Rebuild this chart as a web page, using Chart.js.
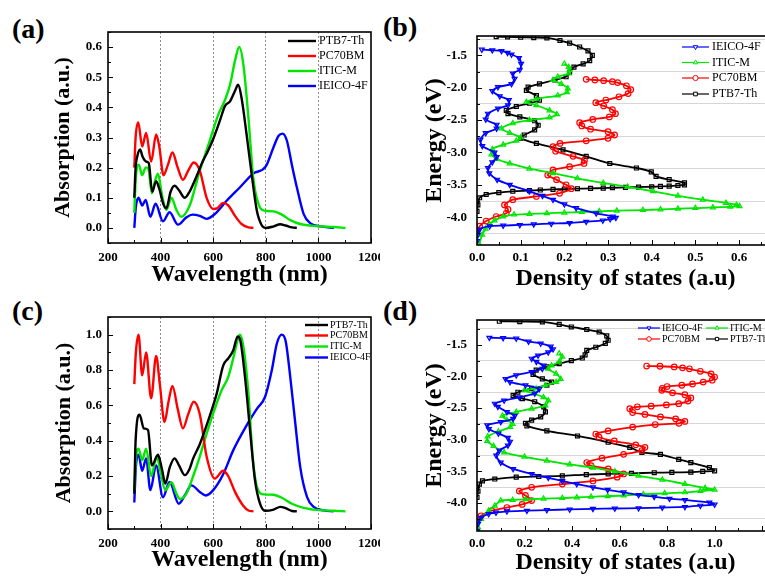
<!DOCTYPE html>
<html>
<head>
<meta charset="utf-8">
<script src="https://cdn.jsdelivr.net/npm/chart.js@4.4.0/dist/chart.umd.min.js"></script>
<style>
html, body { margin: 0; padding: 0; background: #fff; overflow: hidden; width: 765px; height: 578px; position: relative; }
canvas { position: absolute; }
.lbl { position: absolute; font: bold 28px "Liberation Serif", "Times New Roman", serif; line-height: 1; color: #000; }
</style>
</head>
<body>
<div class="lbl" style="left:12px;top:15px">(a)</div>
<div class="lbl" style="left:383px;top:13px">(b)</div>
<div class="lbl" style="left:12px;top:297px">(c)</div>
<div class="lbl" style="left:383px;top:297px">(d)</div>
<canvas id="ca" width="380" height="290" style="left:0;top:0"></canvas>
<canvas id="cb" width="400" height="293" style="left:380px;top:0"></canvas>
<canvas id="cc" width="380" height="288" style="left:0;top:290px"></canvas>
<canvas id="cd" width="400" height="288" style="left:380px;top:290px"></canvas>
<script>
const SERIF = '"Liberation Serif", "Times New Roman", serif';

// --- (a) absorption, [wavelength nm, absorbance] ---
const ptb7A = [[300,0.10],[305,0.20],[312,0.24],[322,0.26],[332,0.235],[345,0.22],[355,0.215],[368,0.12],[383,0.155],[395,0.13],[410,0.08],[422,0.065],[438,0.12],[453,0.14],[470,0.125],[492,0.10],[510,0.12],[536,0.17],[560,0.22],[580,0.255],[600,0.295],[625,0.355],[645,0.405],[664,0.42],[683,0.455],[695,0.475],[708,0.43],[727,0.31],[746,0.18],[766,0.057],[785,0.008],[800,0.0],[830,0.005],[855,0.012],[875,0.008],[900,0.002],[918,0.0]];
const pc70A = [[300,0.2],[305,0.3],[315,0.35],[330,0.27],[345,0.315],[364,0.22],[383,0.31],[395,0.27],[411,0.175],[428,0.21],[445,0.25],[465,0.2],[485,0.16],[505,0.19],[526,0.217],[549,0.19],[575,0.10],[600,0.063],[615,0.065],[638,0.083],[657,0.075],[683,0.04],[708,0.013],[734,0.002],[753,0.0]];
const iticA = [[300,0.05],[306,0.17],[317,0.21],[330,0.175],[343,0.2],[352,0.2],[367,0.115],[380,0.16],[390,0.18],[405,0.11],[422,0.06],[441,0.10],[460,0.06],[479,0.037],[511,0.075],[530,0.13],[549,0.19],[570,0.245],[587,0.29],[619,0.375],[645,0.425],[664,0.475],[683,0.555],[699,0.6],[715,0.54],[734,0.365],[752,0.168],[772,0.08],[797,0.057],[829,0.055],[861,0.044],[893,0.026],[931,0.013],[995,0.006],[1058,0.003],[1103,0.0]];
const ieicoA = [[300,0.0],[306,0.07],[316,0.10],[330,0.074],[343,0.093],[361,0.037],[381,0.08],[409,0.022],[434,0.052],[466,0.011],[498,0.035],[521,0.044],[549,0.04],[575,0.03],[606,0.046],[651,0.09],[702,0.135],[752,0.18],[800,0.204],[829,0.267],[848,0.305],[864,0.313],[880,0.29],[899,0.21],[918,0.135],[944,0.046],[970,0.015],[1008,0.005],[1059,0.0]];

// --- (c) normalised absorption ---
const ptb7C = [[300,0.1],[305,0.4],[320,0.547],[336,0.47],[352,0.46],[367,0.26],[390,0.32],[405,0.24],[418,0.157],[435,0.25],[453,0.30],[470,0.26],[492,0.205],[510,0.24],[524,0.30],[549,0.38],[587,0.54],[613,0.665],[638,0.825],[657,0.865],[676,0.91],[693,0.99],[702,0.975],[721,0.76],[740,0.46],[759,0.175],[778,0.043],[797,0.003],[830,0.01],[855,0.025],[875,0.018],[900,0.002],[918,0.0]];
const pc70C = [[300,0.72],[306,0.9],[316,1.0],[330,0.77],[345,0.9],[364,0.64],[383,0.88],[397,0.72],[415,0.505],[430,0.62],[445,0.71],[465,0.58],[485,0.47],[505,0.55],[526,0.62],[549,0.55],[575,0.31],[606,0.185],[638,0.23],[657,0.2],[683,0.11],[715,0.03],[734,0.005],[753,0.0]];
const iticC = [[300,0.12],[306,0.3],[316,0.355],[330,0.29],[345,0.355],[364,0.2],[386,0.31],[400,0.22],[418,0.12],[441,0.165],[460,0.1],[473,0.07],[498,0.1],[524,0.2],[549,0.31],[575,0.44],[606,0.58],[632,0.685],[657,0.76],[676,0.865],[693,0.97],[702,1.0],[715,0.93],[734,0.665],[750,0.31],[766,0.14],[791,0.096],[829,0.094],[861,0.077],[899,0.043],[944,0.02],[995,0.008],[1058,0.003],[1103,0.0]];
const ieicoC = [[300,0.05],[306,0.25],[316,0.32],[330,0.23],[345,0.3],[361,0.12],[383,0.26],[409,0.08],[434,0.166],[469,0.043],[492,0.09],[517,0.147],[549,0.11],[572,0.09],[600,0.12],[638,0.21],[676,0.345],[727,0.487],[766,0.58],[797,0.647],[823,0.8],[842,0.95],[861,1.0],[876,0.96],[893,0.76],[912,0.5],[931,0.25],[957,0.08],[982,0.025],[1020,0.005],[1058,0.0]];

// --- (b) density of states, [energy eV, DOS] ---
const ieicoB = [[-1.41,0.011],[-1.42,0.035],[-1.43,0.056],[-1.46,0.07],[-1.485,0.079],[-1.54,0.096],[-1.63,0.101],[-1.72,0.098],[-1.78,0.082],[-1.86,0.086],[-1.94,0.079],[-1.99,0.048],[-2.05,0.035],[-2.13,0.052],[-2.19,0.073],[-2.27,0.071],[-2.32,0.048],[-2.40,0.025],[-2.49,0.02],[-2.57,0.045],[-2.63,0.045],[-2.70,0.02],[-2.80,0.008],[-2.90,0.012],[-3.00,0.04],[-3.07,0.045],[-3.15,0.035],[-3.24,0.025],[-3.32,0.028],[-3.42,0.046],[-3.50,0.075],[-3.60,0.12],[-3.67,0.15],[-3.73,0.174],[-3.80,0.20],[-3.86,0.227],[-3.94,0.273],[-3.99,0.311],[-4.01,0.318],[-4.03,0.305],[-4.05,0.288],[-4.07,0.25],[-4.09,0.212],[-4.10,0.17],[-4.11,0.13],[-4.12,0.098],[-4.13,0.06],[-4.14,0.029],[-4.19,0.006],[-4.27,0.002],[-4.37,0.0]];
const iticB = [[-1.63,0.20],[-1.68,0.21],[-1.73,0.212],[-1.78,0.21],[-1.83,0.185],[-1.88,0.174],[-1.94,0.193],[-2.01,0.208],[-2.07,0.206],[-2.12,0.185],[-2.17,0.136],[-2.22,0.113],[-2.27,0.136],[-2.35,0.166],[-2.41,0.183],[-2.46,0.166],[-2.50,0.12],[-2.55,0.082],[-2.63,0.056],[-2.70,0.075],[-2.77,0.10],[-2.82,0.09],[-2.88,0.06],[-2.95,0.035],[-3.03,0.033],[-3.10,0.045],[-3.17,0.075],[-3.25,0.12],[-3.32,0.174],[-3.40,0.23],[-3.47,0.289],[-3.53,0.345],[-3.60,0.403],[-3.67,0.46],[-3.73,0.517],[-3.78,0.57],[-3.81,0.594],[-3.83,0.601],[-3.84,0.58],[-3.85,0.54],[-3.86,0.50],[-3.87,0.46],[-3.88,0.42],[-3.89,0.38],[-3.90,0.32],[-3.91,0.28],[-3.92,0.24],[-3.93,0.20],[-3.94,0.16],[-3.95,0.12],[-3.96,0.085],[-3.99,0.06],[-4.05,0.04],[-4.11,0.029],[-4.18,0.02],[-4.27,0.012],[-4.42,0.005]];
const pc70B = [[-1.87,0.25],[-1.88,0.27],[-1.89,0.29],[-1.905,0.31],[-1.92,0.322],[-1.97,0.342],[-2.03,0.352],[-2.09,0.346],[-2.14,0.325],[-2.19,0.295],[-2.23,0.272],[-2.28,0.29],[-2.34,0.31],[-2.40,0.317],[-2.45,0.303],[-2.49,0.265],[-2.54,0.235],[-2.59,0.24],[-2.64,0.26],[-2.68,0.30],[-2.73,0.315],[-2.78,0.30],[-2.82,0.25],[-2.86,0.19],[-2.91,0.174],[-2.98,0.18],[-3.06,0.22],[-3.12,0.246],[-3.17,0.245],[-3.22,0.212],[-3.27,0.174],[-3.35,0.162],[-3.42,0.182],[-3.50,0.204],[-3.56,0.216],[-3.63,0.189],[-3.68,0.136],[-3.73,0.082],[-3.81,0.063],[-3.88,0.071],[-3.94,0.067],[-3.99,0.044],[-4.06,0.021],[-4.14,0.006],[-4.22,0.0]];
const ptb7B = [[-1.21,0.044],[-1.215,0.07],[-1.22,0.10],[-1.225,0.13],[-1.23,0.16],[-1.27,0.19],[-1.31,0.212],[-1.37,0.235],[-1.43,0.254],[-1.50,0.264],[-1.58,0.258],[-1.63,0.243],[-1.68,0.222],[-1.76,0.212],[-1.83,0.204],[-1.88,0.178],[-1.94,0.143],[-1.99,0.117],[-2.04,0.113],[-2.12,0.136],[-2.19,0.143],[-2.24,0.12],[-2.29,0.09],[-2.35,0.067],[-2.40,0.071],[-2.45,0.098],[-2.51,0.132],[-2.58,0.14],[-2.65,0.132],[-2.73,0.108],[-2.78,0.10],[-2.86,0.136],[-2.96,0.197],[-3.06,0.25],[-3.17,0.304],[-3.24,0.365],[-3.30,0.399],[-3.37,0.41],[-3.42,0.44],[-3.47,0.475],[-3.50,0.475],[-3.51,0.46],[-3.52,0.44],[-3.525,0.42],[-3.53,0.40],[-3.535,0.37],[-3.54,0.34],[-3.545,0.31],[-3.55,0.289],[-3.555,0.26],[-3.56,0.23],[-3.565,0.20],[-3.57,0.174],[-3.58,0.145],[-3.59,0.12],[-3.60,0.082],[-3.62,0.05],[-3.65,0.021],[-3.70,0.006],[-3.81,0.002],[-3.91,0.0]];

// --- (d) normalised density of states ---
const ieicoD = [[-1.39,0.052],[-1.395,0.11],[-1.40,0.165],[-1.45,0.217],[-1.48,0.268],[-1.53,0.31],[-1.57,0.32],[-1.62,0.30],[-1.67,0.257],[-1.72,0.23],[-1.77,0.25],[-1.83,0.28],[-1.88,0.275],[-1.93,0.23],[-1.98,0.165],[-2.04,0.12],[-2.09,0.139],[-2.14,0.204],[-2.20,0.262],[-2.27,0.243],[-2.33,0.178],[-2.38,0.114],[-2.43,0.075],[-2.48,0.088],[-2.56,0.126],[-2.62,0.159],[-2.67,0.152],[-2.72,0.10],[-2.77,0.043],[-2.83,0.05],[-2.90,0.09],[-2.97,0.13],[-3.03,0.139],[-3.09,0.13],[-3.17,0.094],[-3.25,0.081],[-3.36,0.10],[-3.46,0.152],[-3.54,0.23],[-3.60,0.30],[-3.65,0.359],[-3.70,0.42],[-3.75,0.488],[-3.79,0.55],[-3.83,0.617],[-3.87,0.68],[-3.90,0.746],[-3.93,0.81],[-3.95,0.875],[-3.99,0.978],[-4.02,1.0],[-4.04,0.94],[-4.06,0.875],[-4.07,0.78],[-4.08,0.68],[-4.085,0.58],[-4.09,0.488],[-4.10,0.39],[-4.11,0.294],[-4.12,0.21],[-4.13,0.126],[-4.15,0.08],[-4.17,0.049],[-4.23,0.017],[-4.33,0.004],[-4.44,0.0]];
const iticD = [[-1.64,0.346],[-1.69,0.359],[-1.77,0.346],[-1.83,0.314],[-1.88,0.30],[-1.96,0.333],[-2.04,0.352],[-2.09,0.333],[-2.14,0.288],[-2.19,0.249],[-2.22,0.20],[-2.27,0.24],[-2.33,0.28],[-2.38,0.30],[-2.46,0.288],[-2.51,0.23],[-2.56,0.165],[-2.62,0.107],[-2.69,0.126],[-2.75,0.15],[-2.80,0.14],[-2.87,0.09],[-2.95,0.045],[-3.02,0.043],[-3.10,0.07],[-3.20,0.114],[-3.27,0.20],[-3.33,0.294],[-3.39,0.39],[-3.44,0.488],[-3.50,0.58],[-3.57,0.68],[-3.63,0.78],[-3.70,0.875],[-3.76,0.96],[-3.79,1.0],[-3.81,0.94],[-3.83,0.875],[-3.845,0.79],[-3.86,0.70],[-3.88,0.617],[-3.89,0.55],[-3.90,0.48],[-3.91,0.42],[-3.92,0.359],[-3.93,0.28],[-3.94,0.204],[-3.95,0.15],[-3.96,0.10],[-4.04,0.075],[-4.12,0.049],[-4.25,0.017],[-4.38,0.004]];
const pc70D = [[-1.837,0.714],[-1.84,0.77],[-1.85,0.83],[-1.865,0.865],[-1.88,0.894],[-1.92,0.94],[-1.96,0.985],[-2.01,1.0],[-2.06,0.99],[-2.09,0.952],[-2.12,0.907],[-2.14,0.862],[-2.16,0.80],[-2.19,0.78],[-2.22,0.778],[-2.26,0.823],[-2.29,0.875],[-2.34,0.90],[-2.39,0.888],[-2.43,0.849],[-2.45,0.797],[-2.47,0.733],[-2.48,0.675],[-2.51,0.643],[-2.57,0.655],[-2.60,0.707],[-2.64,0.772],[-2.67,0.836],[-2.71,0.875],[-2.74,0.85],[-2.76,0.75],[-2.80,0.655],[-2.86,0.552],[-2.91,0.50],[-2.96,0.514],[-3.02,0.578],[-3.08,0.668],[-3.12,0.707],[-3.17,0.694],[-3.23,0.617],[-3.29,0.526],[-3.36,0.462],[-3.41,0.48],[-3.46,0.552],[-3.54,0.617],[-3.59,0.59],[-3.65,0.488],[-3.70,0.359],[-3.75,0.23],[-3.81,0.178],[-3.88,0.204],[-3.96,0.23],[-4.02,0.19],[-4.07,0.126],[-4.12,0.062],[-4.20,0.017],[-4.28,0.0]];
const ptb7D = [[-1.13,0.094],[-1.135,0.18],[-1.14,0.275],[-1.18,0.346],[-1.22,0.397],[-1.26,0.462],[-1.30,0.514],[-1.36,0.546],[-1.43,0.552],[-1.48,0.54],[-1.54,0.50],[-1.59,0.462],[-1.66,0.455],[-1.71,0.443],[-1.75,0.397],[-1.80,0.346],[-1.85,0.294],[-1.90,0.249],[-1.97,0.236],[-2.04,0.275],[-2.09,0.314],[-2.14,0.294],[-2.19,0.23],[-2.25,0.172],[-2.30,0.152],[-2.35,0.191],[-2.40,0.243],[-2.48,0.281],[-2.56,0.288],[-2.64,0.268],[-2.69,0.23],[-2.74,0.204],[-2.78,0.21],[-2.86,0.294],[-2.94,0.423],[-3.04,0.552],[-3.12,0.643],[-3.20,0.694],[-3.23,0.772],[-3.31,0.849],[-3.36,0.90],[-3.44,0.978],[-3.49,1.0],[-3.50,0.95],[-3.51,0.90],[-3.515,0.82],[-3.52,0.746],[-3.53,0.65],[-3.54,0.552],[-3.55,0.46],[-3.57,0.359],[-3.58,0.26],[-3.59,0.165],[-3.62,0.075],[-3.65,0.023],[-3.70,0.01],[-3.81,0.004],[-3.91,0.0]];

// --- plugins ---

// frame box + inward ticks (major/minor) on bottom and left edges
const frameTicks = {
    id: 'frameTicks',
    afterDatasetsDraw(chart, args, o) {
        const { ctx, chartArea: a, scales: { x, y } } = chart;
        const isMajor = (v, m) => Math.abs(v / m - Math.round(v / m)) < 1e-6;
        ctx.save();
        ctx.strokeStyle = '#000';
        ctx.lineWidth = 1;
        for (let k = Math.ceil(x.min / o.xMinor - 1e-9); k * o.xMinor <= x.max + 1e-9; k++) {
            const v = k * o.xMinor, px = Math.round(x.getPixelForValue(v)) + 0.5;
            ctx.beginPath();
            ctx.moveTo(px, a.bottom);
            ctx.lineTo(px, a.bottom - (isMajor(v, o.xMajor) ? 5 : 3));
            ctx.stroke();
        }
        for (let k = Math.ceil(y.min / o.yMinor - 1e-9); k * o.yMinor <= y.max + 1e-9; k++) {
            const v = k * o.yMinor, py = Math.round(y.getPixelForValue(v)) + 0.5;
            ctx.beginPath();
            ctx.moveTo(a.left, py);
            ctx.lineTo(a.left + (isMajor(v, o.yMajor) ? 5 : 3), py);
            ctx.stroke();
        }
        ctx.lineWidth = 1.6;
        ctx.strokeRect(a.left, a.top, a.right - a.left, a.bottom - a.top);
        ctx.restore();
    }
};

// legend drawn inside the plot, entries placed by the options
const boxLegend = {
    id: 'boxLegend',
    afterDraw(chart, args, o) {
        const ctx = chart.ctx;
        ctx.save();
        ctx.font = o.size + 'px ' + SERIF;
        ctx.textBaseline = 'middle';
        o.items.forEach(it => {
            const ds = chart.data.datasets[it.ds];
            ctx.strokeStyle = ds.borderColor;
            ctx.lineWidth = o.lineW;
            ctx.beginPath();
            ctx.moveTo(it.x, it.y);
            ctx.lineTo(it.x + o.len, it.y);
            ctx.stroke();
            if (o.marker) {
                ctx.fillStyle = '#fff';
                ctx.lineWidth = 1;
                Chart.helpers.drawPoint(ctx, {
                    pointStyle: ds.pointStyle, rotation: ds.pointRotation || 0,
                    radius: o.markR, borderWidth: 1
                }, it.x + o.len / 2, it.y);
            }
            ctx.fillStyle = '#000';
            ctx.fillText(ds.label, it.x + o.len + o.gap, it.y);
        });
        ctx.restore();
    }
};

// --- dataset builders ---

const COLORS = { 'PTB7-Th': '#000000', 'PC70BM': '#ff0000', 'ITIC-M': '#00e600', 'IEICO-4F': '#0000ff' };
const MARKERS = {
    'IEICO-4F': { pointStyle: 'triangle', pointRotation: 180 },
    'ITIC-M': { pointStyle: 'triangle', pointRotation: 0 },
    'PC70BM': { pointStyle: 'circle', pointRotation: 0 },
    'PTB7-Th': { pointStyle: 'rect', pointRotation: 0 }
};

function absSet(name, pts) {
    return {
        label: name,
        data: pts.map(p => ({ x: p[0], y: p[1] })),
        showLine: true,
        borderColor: COLORS[name],
        borderWidth: 2.4,
        pointRadius: 0,
        cubicInterpolationMode: 'monotone'
    };
}

function dosSet(name, pts, r) {
    return {
        label: name,
        data: pts.map(p => ({ x: p[1], y: p[0] })),
        showLine: true,
        borderColor: COLORS[name],
        borderWidth: 1.8,
        tension: 0.25,
        pointRadius: r,
        pointBorderWidth: 1.2,
        pointBorderColor: COLORS[name],
        pointBackgroundColor: 'rgba(255,255,255,0)',
        pointStyle: MARKERS[name].pointStyle,
        pointRotation: MARKERS[name].pointRotation
    };
}

const tickFont = { family: SERIF, size: 13, weight: 'bold' };
const half = v => Math.abs(v * 2 - Math.round(v * 2)) < 1e-6;

function makeChart(id, c) {
    return new Chart(document.getElementById(id), {
        type: 'scatter',
        data: { datasets: c.datasets },
        plugins: [frameTicks, boxLegend],
        options: {
            responsive: false,
            animation: false,
            devicePixelRatio: 1,
            layout: { padding: c.pad },
            plugins: {
                legend: { display: false },
                tooltip: { enabled: false },
                frameTicks: c.ticks,
                boxLegend: c.legend
            },
            scales: {
                x: {
                    type: 'linear', min: c.x.min, max: c.x.max,
                    afterFit(s) { s.height = c.x.h; s.paddingLeft = 0; s.paddingRight = 0; },
                    ticks: {
                        stepSize: c.x.step, includeBounds: false, autoSkip: false, maxRotation: 0,
                        padding: c.x.tpad, color: '#000', font: tickFont,
                        callback: c.x.fmt
                    },
                    grid: { drawTicks: false, lineWidth: 1, color: c.x.grid || 'rgba(0,0,0,0)' },
                    border: { display: false, dash: [2, 2] },
                    title: {
                        display: true, text: c.x.title, color: '#000',
                        font: { family: SERIF, size: 24, weight: 'bold' },
                        padding: { top: 0, bottom: c.x.titlePad }
                    }
                },
                y: {
                    type: 'linear', min: c.y.min, max: c.y.max,
                    afterFit(s) { s.width = c.y.w; s.paddingTop = 0; s.paddingBottom = 0; },
                    afterBuildTicks: c.y.build,
                    ticks: {
                        autoSkip: false,
                        padding: c.y.tpad, color: '#000', font: tickFont,
                        callback: c.y.fmt
                    },
                    grid: { drawTicks: false, lineWidth: 1, color: c.y.grid || 'rgba(0,0,0,0)' },
                    border: { display: false },
                    title: {
                        display: true, text: c.y.title, color: '#000',
                        font: { family: SERIF, size: c.y.titleSize, weight: 'bold' },
                        padding: { top: c.y.titlePad, bottom: 0 }
                    }
                }
            }
        }
    });
}

// dotted vertical lines at the inner wavelength ticks
const wlGrid = ctx => (ctx.tick && ctx.tick.value > 200 && ctx.tick.value < 1200) ? '#8c8c8c' : 'rgba(0,0,0,0)';
// light horizontal lines between the energy labels
const eGrid = ctx => (ctx.tick && !half(ctx.tick.value)) ? '#d6d6d6' : 'rgba(0,0,0,0)';
// tick builders: values k*step for k in [k0, k1]
const stepTicks = (k0, k1, step) => s => {
    const t = [];
    for (let k = k0; k <= k1; k++) t.push({ value: +(k * step).toFixed(4) });
    s.ticks = t;
};
const eFmt = v => half(v) ? v.toFixed(1) : '';

const wlX = (h, tpad, titlePad) => ({
    min: 200, max: 1200, step: 200, h: h, tpad: tpad, grid: wlGrid,
    fmt: v => v.toFixed(0), title: 'Wavelength (nm)', titlePad: titlePad
});

// (a)
makeChart('ca', {
    pad: { top: 32, right: 9, left: 0, bottom: 0 },
    datasets: [absSet('PTB7-Th', ptb7A), absSet('PC70BM', pc70A), absSet('ITIC-M', iticA), absSet('IEICO-4F', ieicoA)],
    x: wlX(47, 7, 1),
    y: { min: -0.05, max: 0.65, w: 108, tpad: 6, build: stepTicks(0, 6, 0.1), fmt: v => v.toFixed(1),
         title: 'Absorption (a.u.)', titleSize: 22, titlePad: 50 },
    ticks: { xMajor: 200, xMinor: 100, yMajor: 0.1, yMinor: 0.05 },
    legend: { size: 12, lineW: 2.4, len: 28, gap: 3, marker: false, items: [
        { ds: 0, x: 288, y: 41 }, { ds: 1, x: 288, y: 56 }, { ds: 2, x: 288, y: 71 }, { ds: 3, x: 288, y: 86 }] }
});

// (b)
makeChart('cb', {
    pad: { top: 36, right: 6, left: 0, bottom: 0 },
    datasets: [dosSet('IEICO-4F', ieicoB, 2.8), dosSet('ITIC-M', iticB, 2.8), dosSet('PC70BM', pc70B, 2.8), dosSet('PTB7-Th', ptb7B, 2.8)],
    x: { min: 0, max: 0.68, step: 0.1, h: 48, tpad: 5,
         fmt: v => v <= 0.6 + 1e-9 ? v.toFixed(1) : '', title: 'Density of states (a.u)', titlePad: 0 },
    y: { min: -4.43, max: -1.2, w: 97, tpad: 10, build: stepTicks(-17, -5, 0.25), fmt: eFmt, grid: eGrid,
         title: 'Energy (eV)', titleSize: 24, titlePad: 40 },
    ticks: { xMajor: 0.1, xMinor: 0.05, yMajor: 0.5, yMinor: 0.25 },
    legend: { size: 12, lineW: 1.2, len: 27, gap: 3, marker: true, markR: 2.6, items: [
        { ds: 0, x: 302, y: 47 }, { ds: 1, x: 302, y: 62.5 }, { ds: 2, x: 302, y: 78 }, { ds: 3, x: 302, y: 94 }] }
});

// (c)
makeChart('cc', {
    pad: { top: 27, right: 9, left: 0, bottom: 0 },
    datasets: [absSet('PTB7-Th', ptb7C), absSet('PC70BM', pc70C), absSet('ITIC-M', iticC), absSet('IEICO-4F', ieicoC)],
    x: wlX(49, 7, 4),
    y: { min: -0.1, max: 1.1, w: 108, tpad: 6, build: stepTicks(0, 5, 0.2), fmt: v => v.toFixed(1),
         title: 'Absorption (a.u.)', titleSize: 22, titlePad: 51 },
    ticks: { xMajor: 200, xMinor: 100, yMajor: 0.2, yMinor: 0.1 },
    legend: { size: 10, lineW: 2.4, len: 23, gap: 2, marker: false, items: [
        { ds: 0, x: 305, y: 35 }, { ds: 1, x: 305, y: 45.5 }, { ds: 2, x: 305, y: 56.5 }, { ds: 3, x: 305, y: 67.5 }] }
});

// (d)
makeChart('cd', {
    pad: { top: 30, right: 6, left: 0, bottom: 0 },
    datasets: [dosSet('IEICO-4F', ieicoD, 2.8), dosSet('ITIC-M', iticD, 2.8), dosSet('PC70BM', pc70D, 2.8), dosSet('PTB7-Th', ptb7D, 2.8)],
    x: { min: 0, max: 1.25, step: 0.2, h: 47, tpad: 5,
         fmt: v => v <= 1.0 + 1e-9 ? v.toFixed(1) : '', title: 'Density of states (a.u)', titlePad: 1 },
    y: { min: -4.44, max: -1.11, w: 97, tpad: 10, build: stepTicks(-17, -5, 0.25), fmt: eFmt, grid: eGrid,
         title: 'Energy (eV)', titleSize: 24, titlePad: 40 },
    ticks: { xMajor: 0.2, xMinor: 0.1, yMajor: 0.5, yMinor: 0.25 },
    legend: { size: 10, lineW: 1.2, len: 22, gap: 2, marker: true, markR: 2.3, items: [
        { ds: 0, x: 258, y: 38 }, { ds: 1, x: 326, y: 38 }, { ds: 2, x: 258, y: 49 }, { ds: 3, x: 326, y: 49 }] }
});
</script>
</body>
</html>
